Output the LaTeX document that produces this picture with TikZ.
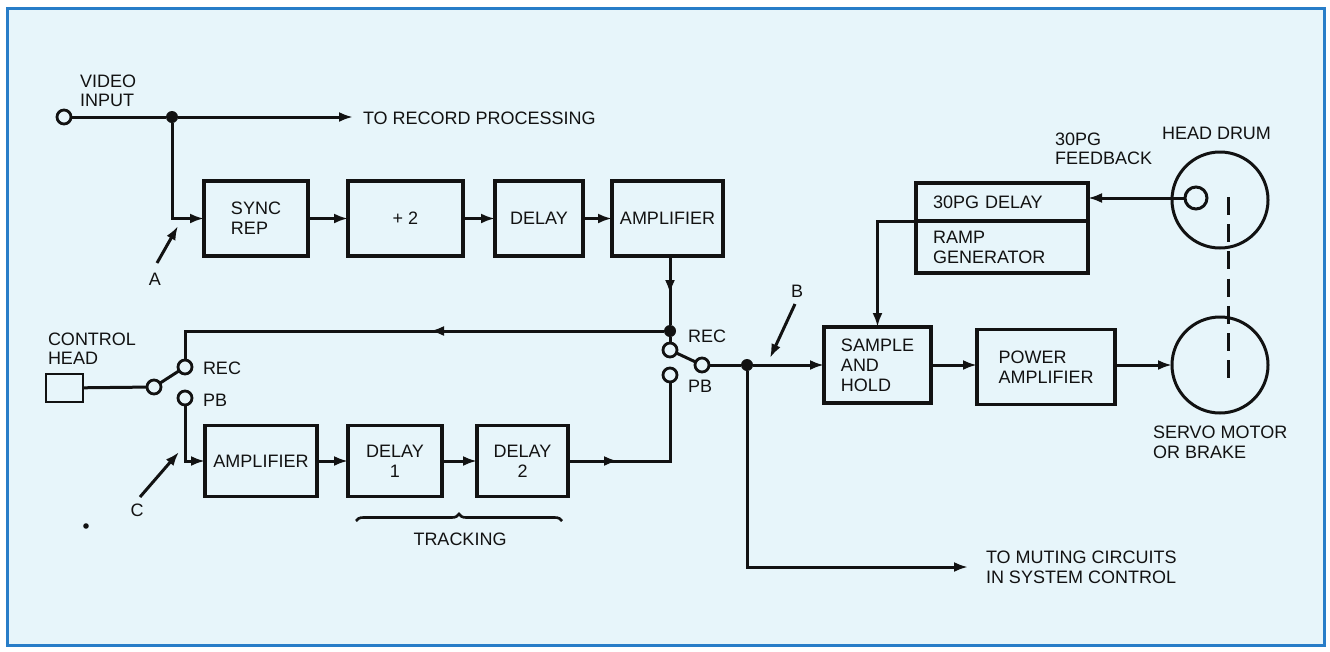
\documentclass[tikz,border=0pt]{standalone}
\usepackage{fontspec}
\setmainfont{Liberation Sans}
\usetikzlibrary{arrows.meta,decorations.markings,decorations.pathreplacing,calc}
\definecolor{bg}{RGB}{231,245,250}
\definecolor{frameblue}{RGB}{40,125,200}
\definecolor{ink}{RGB}{18,18,18}
\begin{document}
\begin{tikzpicture}[x=1pt,y=-1pt,
  every node/.style={inner sep=0pt, outer sep=0pt, text=ink, font=\fontsize{18}{20}\selectfont},
  box/.style={draw=ink, line width=3.2pt, rectangle},
  wire/.style={draw=ink, line width=3pt},
  arr/.style={wire, -{Latex[length=14pt,width=10pt]}},
  contact/.style={draw=ink, line width=2.8pt, circle, minimum size=14pt, fill=bg},
  jdot/.style={circle, fill=ink, minimum size=12pt},
  lbl/.style={anchor=base west},
  midarr/.style={wire, postaction={decorate}, decoration={markings, mark=at position #1 with {\arrow{Latex[length=14pt,width=10pt]}}}},
]
% background and frame
\fill[white] (0,0) rectangle (1330,651);
\path[fill=bg, draw=frameblue, line width=3pt] (7,8) rectangle (1324,645);
\useasboundingbox (0,0) rectangle (1330,651);

% ---- video input ----
\node[contact] (vin) at (64,117) {};
\node[jdot] (j1) at (172,117) {};
\coordinate (rectip) at (353,117);
\node[lbl] at (80,87) {VIDEO};
\node[lbl] at (80,106) {INPUT};
\node[lbl] (torec) at (363,124) {TO RECORD PROCESSING};
\draw[wire] (vin) -- (j1);
\draw[arr] (j1) -- (rectip);

% ---- top chain ----
\node[box, minimum width=104pt, minimum height=75pt, align=left] (sync) at (256,218.5) {SYNC\\REP};
\node[box, minimum width=115pt, minimum height=75pt] (div) at (405.5,218.5) {+ 2};
\node[box, minimum width=88pt, minimum height=75pt] (dly) at (539,218.5) {DELAY};
\node[box, minimum width=111pt, minimum height=75pt] (ampa) at (667.5,218.5) {AMPLIFIER};
\draw[arr] (j1) |- (sync.west);
\draw[arr] (sync.east) -- (div.west);
\draw[arr] (div.east) -- (dly.west);
\draw[arr] (dly.east) -- (ampa.west);

% A pointer
\node (A) at (155,279) {A};
\coordinate (Atail) at (157,263);
\coordinate (Atip) at (178,226);
\draw[arr] (Atail) -- (Atip);

% ---- centre switch ----
\node[jdot] (j2) at (670,331) {};
\node[contact] (rrec) at (670,350) {};
\node[contact] (rpiv) at (702,365) {};
\node[contact] (rpb) at (670,375) {};
\node[lbl] at (688,342) {REC};
\node[lbl] at (688,392) {PB};
\draw[midarr=38pt] (ampa.south -| j2) -- (j2);
\draw[wire] (j2) -- (rrec);
\draw[wire] (rrec) -- (rpiv);

% ---- control head switch ----
\node[box, line width=2.8pt, minimum width=37pt, minimum height=28pt] (chead) at (64.5,388) {};
\node[contact] (lrec) at (185,367) {};
\node[contact] (lpiv) at (154,387) {};
\node[contact] (lpb) at (185,398) {};
\node[lbl] at (48,345) {CONTROL};
\node[lbl] at (48,364) {HEAD};
\node[lbl] at (203,374) {REC};
\node[lbl] at (203,406) {PB};
\draw[midarr=234pt] (j2) -| (lrec);
\draw[wire] (chead) -- (lpiv);
\draw[wire] (lpiv) -- (lrec);

% ---- bottom chain ----
\node[box, minimum width=112pt, minimum height=71pt] (ampb) at (261,461) {AMPLIFIER};
\node[box, minimum width=94pt, minimum height=71pt, align=center] (d1) at (395,461) {DELAY\\1};
\node[box, minimum width=91pt, minimum height=71pt, align=center] (d2) at (522.5,461) {DELAY\\2};
\draw[arr] (lpb) |- (ampb.west);
\draw[arr] (ampb.east) -- (d1.west);
\draw[arr] (d1.east) -- (d2.west);
\draw[midarr=50pt] (d2.east) -| (rpb);

% C pointer
\node (C) at (137,510) {C};
\coordinate (Ctail) at (140,497);
\coordinate (Ctip) at (179,452);
\draw[arr] (Ctail) -- (Ctip);

% tracking brace
\coordinate (brL) at (356,521);
\coordinate (brR) at (562,521);
\draw[ink, line width=2.6pt, decorate, decoration={brace, amplitude=7pt, aspect=0.5}] (brL) -- (brR);
\node (track) at (460,539) {TRACKING};
\fill[ink] (86,526) circle (2.8pt);

% ---- right side ----
\node[jdot] (j3) at (747,365) {};
\node[box, minimum width=107pt, minimum height=76pt, align=left] (sh) at (877.5,365) {SAMPLE\\AND\\HOLD};
\node[box, minimum width=138pt, minimum height=75pt, align=left] (pa) at (1046,367) {POWER\\AMPLIFIER};
\node[circle, draw=ink, line width=3pt, minimum size=96pt] (servo) at (1220,365) {};
\node[circle, draw=ink, line width=3pt, minimum size=96pt] (drum) at (1220,200) {};
\node[circle, draw=ink, line width=3pt, minimum size=22pt, fill=bg] (head) at (1196,198) {};
\node[box, minimum width=172pt, minimum height=38pt, text width=138pt, align=left] (pgd) at (1002,202) {30PG DELAY};
\node[box, minimum width=172pt, minimum height=52pt, text width=138pt, align=left] (pgr) at (1002,247) {RAMP\\GENERATOR};

\draw[wire] (rpiv) -- (j3);
\draw[arr] (j3) -- (sh.west);
\draw[arr] (sh.east) -- (sh.east -| pa.west);
\draw[arr] (sh.east -| pa.east) -- (servo.west);
\draw[arr] (head.west) -- (head.west -| pgd.east);
\draw[arr] (pgd.south west) -| (sh.north);

\coordinate (shaftTop) at (1228,197);
\coordinate (shaftBot) at (1228,378);
\draw[wire, dash pattern=on 18pt off 9.2pt] (shaftTop) -- (shaftBot);

% B pointer
\node (B) at (797,291) {B};
\coordinate (Btail) at (795,304);
\coordinate (Btip) at (770,358);
\draw[arr] (Btail) -- (Btip);

% muting output
\coordinate (mute) at (968,567);
\draw[arr] (j3) |- (mute);
\node[lbl] at (986,563) {TO MUTING CIRCUITS};
\node[lbl] at (986,583) {IN SYSTEM CONTROL};

% labels right
\node[lbl] at (1153,438) {SERVO MOTOR};
\node[lbl] at (1153,458) {OR BRAKE};
\node[lbl] at (1055,145) {30PG};
\node[lbl] at (1055,164) {FEEDBACK};
\node[lbl] at (1162,139) {HEAD DRUM};
\end{tikzpicture}
\end{document}
